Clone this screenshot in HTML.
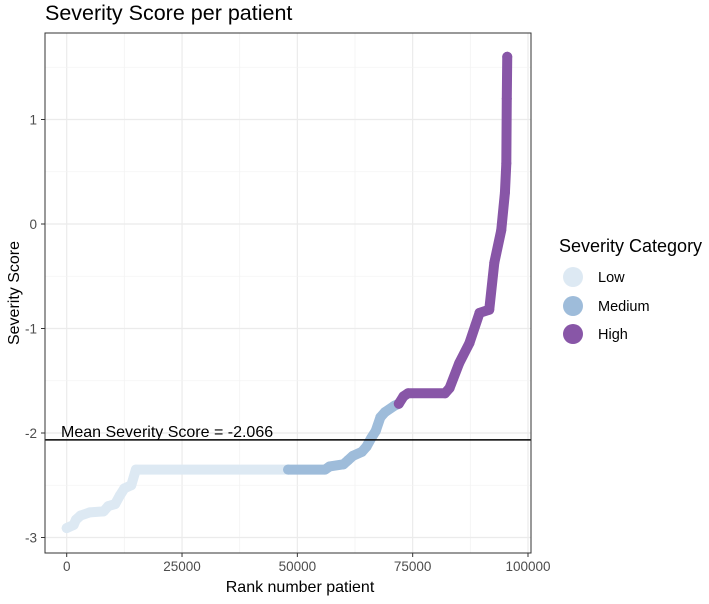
<!DOCTYPE html>
<html><head><meta charset="utf-8"><style>
body{margin:0;background:#fff;font-family:"Liberation Sans",sans-serif}
</style></head><body>
<svg width="709" height="599" xmlns="http://www.w3.org/2000/svg" font-family="Liberation Sans, sans-serif">
<text x="45" y="20" font-size="21.5" fill="#000">Severity Score per patient</text>
<g id="grid"></g>
<g id="series"></g>
<rect x="45" y="33" width="486" height="520" fill="none" stroke="#333" stroke-width="1"/>
<g id="axes"></g>
<text x="300" y="592" font-size="16" text-anchor="middle">Rank number patient</text>
<text transform="translate(19,293) rotate(-90)" font-size="16" text-anchor="middle">Severity Score</text>
<g>
<text x="559" y="252" font-size="18">Severity Category</text>
<g><circle cx="573" cy="277" r="10" fill="#dde9f3"/><text x="598" y="282" font-size="14.5">Low</text></g>
<g><circle cx="573" cy="306" r="10" fill="#9ebcda"/><text x="598" y="311" font-size="14.5">Medium</text></g>
<g><circle cx="573" cy="334" r="10" fill="#8856a7"/><text x="598" y="339" font-size="14.5">High</text></g>
</g>
</svg>
<script>
const xTicks=[0,25000,50000,75000,100000];
const yTicks=[-3,-2,-1,0,1];
const meanScore=-2.066;
const lowRank=[0,1500,2000,3000,5000,8000,9000,10500,11500,12500,14000,15000,48000];
const lowScore=[-2.91,-2.88,-2.83,-2.79,-2.76,-2.75,-2.7,-2.68,-2.6,-2.53,-2.5,-2.35,-2.35];
const medRank=[48000,56000,57000,60000,61000,62000,64000,65000,66000,67000,68000,69000,71000,72000];
const medScore=[-2.35,-2.35,-2.32,-2.3,-2.26,-2.22,-2.18,-2.13,-2.05,-1.98,-1.85,-1.8,-1.74,-1.72];
const highRank=[72000,73000,74000,82000,83000,85100,87300,89500,91600,92700,94200,95000,95300,95400,95500];
const highScore=[-1.72,-1.65,-1.62,-1.62,-1.57,-1.33,-1.14,-0.85,-0.82,-0.37,-0.06,0.3,0.58,1.2,1.6];
const X=v=>66.7+v*(528-66.7)/100000;
const Y=v=>433-(v+2)*104.5;
const NS="http://www.w3.org/2000/svg";
const grid=document.getElementById('grid'),axes=document.getElementById('axes'),ser=document.getElementById('series');
function mk(tag,at,p){const e=document.createElementNS(NS,tag);for(const k in at)e.setAttribute(k,at[k]);p.appendChild(e);return e;}
for(let i=0;i<xTicks.length;i++){
 const gx=mk('line',{x1:X(xTicks[i]),x2:X(xTicks[i]),y1:33,y2:553,stroke:'#ebebeb','stroke-width':1.2},grid);
 
 
 if(i<xTicks.length-1){const m=(xTicks[i]+xTicks[i+1])/2;
  const gm=mk('line',{x1:X(m),x2:X(m),y1:33,y2:553,stroke:'#f3f3f3','stroke-width':0.8},grid);
  
  }
 const t=mk('text',{x:X(xTicks[i]),y:571,'font-size':13.5,fill:'#4d4d4d','text-anchor':'middle'},axes);t.textContent=xTicks[i];
 
 
 mk('line',{x1:X(xTicks[i]),x2:X(xTicks[i]),y1:553,y2:557,stroke:'#333'},axes);
}
for(let i=0;i<yTicks.length;i++){
 const gy=mk('line',{x1:45,x2:531,y1:Y(yTicks[i]),y2:Y(yTicks[i]),stroke:'#ebebeb','stroke-width':1.2},grid);
 
 
 const m=yTicks[i]+0.5;
 const gm=mk('line',{x1:45,x2:531,y1:Y(m),y2:Y(m),stroke:'#f3f3f3','stroke-width':0.8},grid);
 
 
 const t=mk('text',{x:37,y:Y(yTicks[i])+5,'font-size':13.5,fill:'#4d4d4d','text-anchor':'end'},axes);t.textContent=yTicks[i];
 
 
 mk('line',{x1:41,x2:45,y1:Y(yTicks[i]),y2:Y(yTicks[i]),stroke:'#333'},axes);
}
function series(r,s,c,name){
 const pts=r.map((v,i)=>X(v)+','+Y(s[i])).join(' ');
 const pl=mk('polyline',{points:pts,fill:'none',stroke:c,'stroke-width':10,'stroke-linecap':'round','stroke-linejoin':'round'},ser);
 
 
 r.forEach((v,i)=>{const c1=mk('circle',{cx:X(v),cy:Y(s[i]),r:5,fill:c},ser);
  
  });
}
series(lowRank,lowScore,'#dde9f3','low-series');
series(medRank,medScore,'#9ebcda','medium-series');
series(highRank,highScore,'#8856a7','high-series');
const ml=mk('line',{x1:45,x2:531,y1:Y(meanScore),y2:Y(meanScore),stroke:'#000','stroke-width':1.5},ser);


const mt=mk('text',{x:61,y:Y(meanScore)-3,'font-size':16,fill:'#000'},ser);
mt.textContent='Mean Severity Score = '+meanScore;


</script>
</body></html>
